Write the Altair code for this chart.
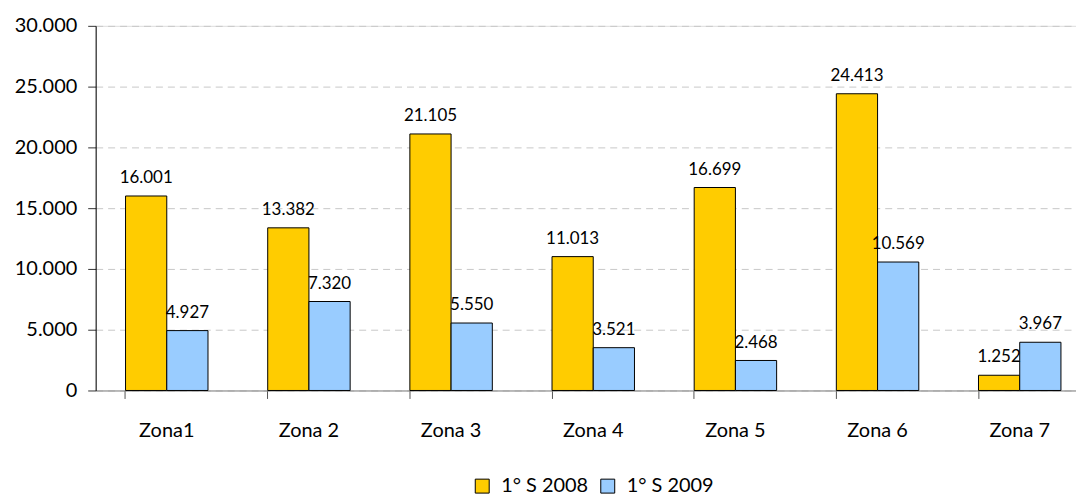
import altair as alt
import pandas as pd

zones = ["Zona1", "Zona 2", "Zona 3", "Zona 4", "Zona 5", "Zona 6", "Zona 7"]
series = ["1° S 2008", "1° S 2009"]
s2008 = [16001, 13382, 21105, 11013, 16699, 24413, 1252]
s2009 = [4927, 7320, 5550, 3521, 2468, 10569, 3967]
colors = ["#FFCC00", "#99CCFF"]
y_ticks = [0, 5000, 10000, 15000, 20000, 25000, 30000]

rows = []
for z, a, b in zip(zones, s2008, s2009):
    rows.append({"zona": z, "serie": series[0], "value": a})
    rows.append({"zona": z, "serie": series[1], "value": b})
df = pd.DataFrame(rows)

FONT = "Lato"
fmt = "replace(format(datum.value, ','), ',', '.')"

base = alt.Chart(df).encode(
    x=alt.X(
        "zona:N",
        sort=zones,
        title=None,
        scale=alt.Scale(paddingInner=0.42, paddingOuter=0.158, align=0.665),
        axis=alt.Axis(
            bandPosition=0,
            labelAngle=0,
            labelFontSize=20,
            labelFont=FONT,
            labelColor="#000000",
            labelBaseline="alphabetic",
            labelPadding=38,
            tickSize=8,
            tickColor="#555555",
            domainColor="#888888",
            grid=False,
        ),
    ),
    xOffset=alt.XOffset("serie:N", sort=series, scale=alt.Scale(paddingInner=0, paddingOuter=0)),
    y=alt.Y(
        "value:Q",
        title=None,
        scale=alt.Scale(domain=[0, 30000]),
        axis=alt.Axis(
            values=y_ticks,
            labelExpr=fmt,
            labelFontSize=20,
            labelFont=FONT,
            labelColor="#000000",
            labelPadding=11,
            tickSize=8,
            tickColor="#333333",
            domainColor="#000000",
            gridDash=[7, 5],
            gridColor="#c8c8c8",
        ),
    ),
)

bars = base.mark_bar(stroke="#000000", strokeWidth=1).encode(
    color=alt.Color(
        "serie:N",
        sort=series,
        scale=alt.Scale(domain=series, range=colors),
        legend=alt.Legend(
            title=None,
            orient="none",
            direction="horizontal",
            legendX=378,
            legendY=452,
            symbolType="square",
            symbolSize=196,
            symbolStrokeColor="#000000",
            symbolStrokeWidth=1,
            symbolOpacity=1,
            labelFontSize=20,
            labelFont=FONT,
            labelColor="#000000",
            labelOffset=9,
            columnPadding=9,
        ),
    )
)

labels = base.mark_text(baseline="alphabetic", dy=-13, fontSize=17, font=FONT, color="#000000").encode(
    text=alt.Text("label:N")
).transform_calculate(label=fmt)

chart = (
    alt.layer(bars, labels)
    .properties(
        width=984,
        height=366,
        padding={"left": 88, "top": 17, "right": 0, "bottom": 104},
        autosize=alt.AutoSizeParams(type="none"),
    )
    .configure_view(stroke=None)
    .configure(background="#ffffff")
)

chart.save("out.html", embed_options={"renderer": "svg", "actions": False})
